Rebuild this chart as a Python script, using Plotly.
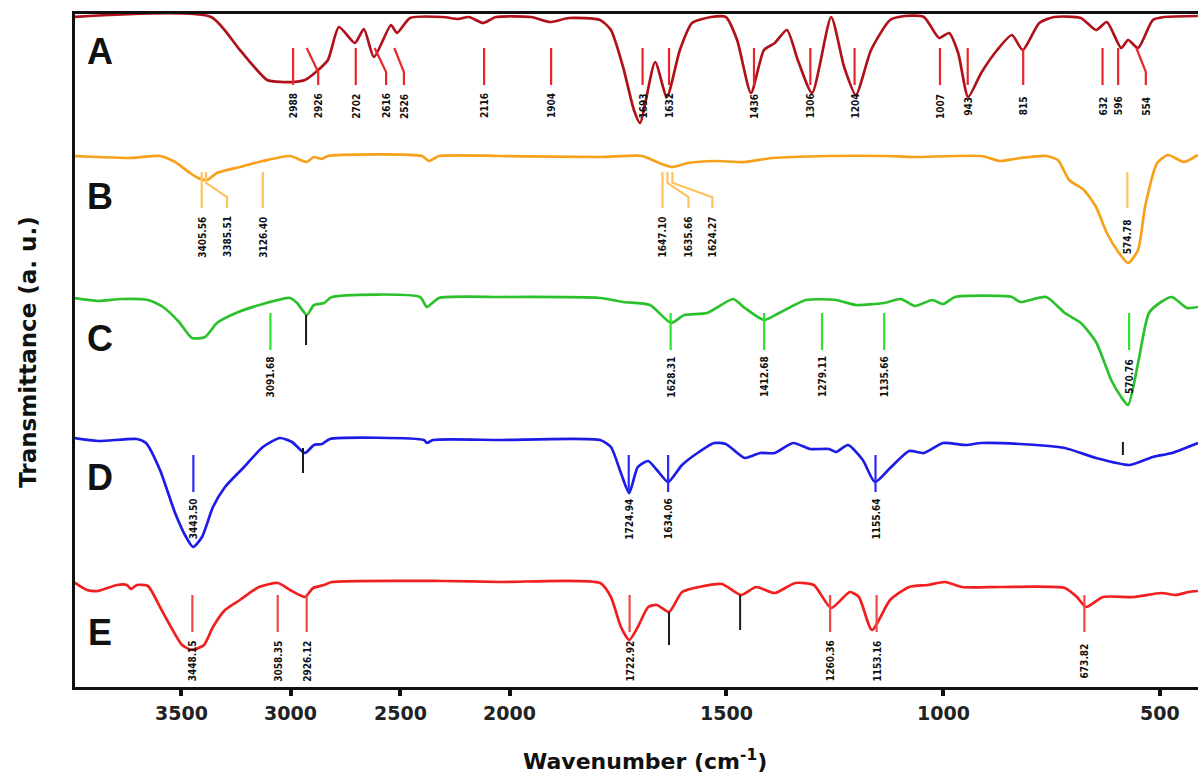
import plotly.graph_objects as go

# ---------------- data (wavenumber in cm-1, transmittance in a.u., curves offset) -------------
wA = [3990, 3363, 3231, 3107, 3039, 2989, 2934, 2884, 2829, 2779, 2706, 2665, 2619, 2541, 2514, 2454,
      2304, 2235, 2185, 2121, 2062, 1950, 1906, 1863, 1791, 1766, 1738, 1713, 1699, 1664, 1637, 1607,
      1579, 1535, 1501, 1475, 1443, 1413, 1388, 1360, 1335, 1302, 1258, 1228, 1201, 1166, 1122, 1088,
      1044, 1009, 986, 965, 942, 912, 875, 841, 816, 778, 744, 682, 647, 622, 589, 573, 550, 516, 490, 412]
tA = [670, 670, 637, 607, 605, 605, 607, 615, 627, 660, 644, 658, 630, 662, 654, 669,
      670, 668, 670, 664, 670, 670, 665, 669, 667, 657, 620, 577, 564, 625, 590, 637,
      664, 670, 670, 647, 594, 637, 644, 657, 627, 594, 670, 620, 592, 637, 667, 671,
      670, 649, 654, 634, 590, 614, 637, 652, 637, 664, 670, 669, 657, 665, 639, 647, 639, 667, 670, 671]

wB = [3990, 3879, 3737, 3596, 3527, 3459, 3422, 3381, 3336, 3231, 3126, 3002, 2925, 2893, 2857, 2829,
      2400, 2368, 2322, 2043, 1791, 1694, 1660, 1625, 1588, 1528, 1457, 1394, 1263, 1131, 1069, 912,
      868, 822, 762, 735, 709, 675, 647, 622, 594, 573, 550, 534, 506, 481, 444, 412]
tB = [531, 530, 529, 531, 525, 514, 509, 507, 514, 520, 526, 531, 525, 530, 528, 531,
      531, 526, 531, 531, 530, 531, 525, 520, 524, 526, 525, 529, 531, 531, 530, 531,
      526, 529, 531, 527, 507, 497, 480, 454, 434, 424, 437, 480, 524, 532, 525, 532]

wC = [3990, 3879, 3774, 3651, 3582, 3509, 3450, 3390, 3336, 3249, 3126, 3002, 2970, 2925, 2893, 2847,
      2811, 2409, 2377, 2322, 2043, 1791, 1738, 1676, 1627, 1597, 1544, 1484, 1457, 1413, 1378, 1316,
      1247, 1201, 1136, 1097, 1065, 1025, 1000, 972, 841, 822, 762, 719, 682, 647, 612, 589, 573, 550,
      525, 497, 472, 437, 412]
tC = [389, 386, 388, 387, 380, 365, 349, 350, 364, 374, 383, 389, 384, 372, 382, 384,
      390, 390, 380, 389, 390, 389, 385, 382, 364, 372, 374, 388, 379, 367, 374, 387,
      387, 382, 384, 388, 381, 387, 383, 390, 390, 385, 390, 374, 364, 345, 307, 290, 282, 324,
      374, 385, 390, 379, 380]

wD = [3990, 3879, 3701, 3660, 3596, 3527, 3477, 3445, 3404, 3354, 3299, 3212, 3126, 3048, 2993, 2934,
      2893, 2856, 2820, 2391, 2377, 2349, 2043, 1791, 1766, 1743, 1724, 1704, 1680, 1660, 1634, 1602,
      1563, 1528, 1501, 1457, 1422, 1388, 1346, 1307, 1263, 1247, 1219, 1185, 1157, 1122, 1078, 1044,
      1000, 947, 912, 822, 719, 647, 569, 516, 472, 412]
tD = [249, 246, 248, 244, 217, 174, 150, 140, 150, 180, 200, 220, 240, 249, 245, 234,
      242, 243, 248, 247, 244, 247, 247, 247, 240, 214, 194, 220, 226, 217, 205, 222,
      235, 244, 243, 229, 234, 234, 244, 238, 238, 235, 242, 227, 205, 219, 236, 234,
      244, 242, 244, 243, 239, 229, 222, 230, 234, 244]

wE = [3990, 3929, 3879, 3792, 3747, 3728, 3701, 3651, 3596, 3546, 3495, 3450, 3395, 3354, 3299, 3231,
      3144, 3057, 3002, 2934, 2897, 2847, 2811, 2304, 2043, 1791, 1766, 1743, 1724, 1704, 1680, 1660,
      1632, 1602, 1563, 1510, 1466, 1431, 1388, 1341, 1298, 1258, 1215, 1194, 1164, 1122, 1078, 1035,
      995, 956, 868, 719, 691, 670, 631, 560, 497, 463, 433, 412]
tE = [105, 97, 96, 102, 102, 98, 102, 101, 80, 60, 42, 37, 42, 60, 77, 87,
      100, 104, 97, 90, 99, 102, 105, 106, 105, 104, 90, 60, 47, 60, 80, 82,
      75, 95, 100, 103, 92, 100, 94, 104, 102, 79, 95, 90, 57, 87, 100, 102,
      105, 100, 100, 99, 90, 80, 90, 90, 94, 92, 95, 96]

peaksA = ["2988", "2926", "2702", "2616", "2526", "2116", "1904", "1693", "1632", "1436", "1306",
          "1204", "1007", "943", "815", "632", "596", "554"]
peaksB = ["3405.56", "3385.51", "3126.40", "1647.10", "1635.66", "1624.27", "574.78"]
peaksC = ["3091.68", "1628.31", "1412.68", "1279.11", "1135.66", "570.76"]
peaksD = ["3443.50", "1724.94", "1634.06", "1155.64"]
peaksE = ["3448.15", "3058.35", "2926.12", "1722.92", "1260.36", "1153.16", "673.82"]

unlabeledC = [2929]
unlabeledD = [2943, 585]
unlabeledE = [1632, 1468]

tick_values = [3500, 3000, 2500, 2000, 1500, 1000, 500]


# ---------------- axis scale: x2 expansion below 2000 cm-1 -------------------------------------
def pos(w):
    if w >= 2000:
        return 181 + (3500 - w) * 0.219
    return 509.5 + (2000 - w) * 0.4335


# ---------------- styles ------------------------------------------------------------------------
STYLE = {
    "A": dict(w=wA, t=tA, peaks=peaksA, color="#b0121b", mcolor="#e8262b", top=639, bot=602, ly=581,
              letter_y=636, f1=0.0, f2=0.65, slant={"2926": 11.5, "2616": 11.5, "2526": 9.6, "554": 9.5}),
    "B": dict(w=wB, t=tB, peaks=peaksB, color="#f6a11c", mcolor="#fdc35e", top=515, bot=479, ly=450,
              letter_y=491, f1=0.3, f2=0.7, slant={"3385.51": 21, "1635.66": 21, "1624.27": 40}),
    "C": dict(w=wC, t=tC, peaks=peaksC, color="#2cc12c", mcolor="#2ee22e", top=374, bot=337, ly=310,
              letter_y=349, f1=0, f2=0, slant={}),
    "D": dict(w=wD, t=tD, peaks=peaksD, color="#1c1ce6", mcolor="#2a2af7", top=232, bot=195, ly=168,
              letter_y=210, f1=0, f2=0, slant={}),
    "E": dict(w=wE, t=tE, peaks=peaksE, color="#f0201e", mcolor="#f24848", top=92, bot=55, ly=26,
              letter_y=55, f1=0, f2=0, slant={}),
}
BLACK_MARKS = [(unlabeledC[0], 372, 342), (unlabeledD[0], 239, 214), (unlabeledD[1], 245, 232),
               (unlabeledE[0], 75, 42), (unlabeledE[1], 92, 57)]

LABEL_FONT = dict(family="DejaVu Sans Condensed, DejaVu Sans", size=10, color="#111111", weight="bold")

fig = go.Figure()
annotations = []

for name, s in STYLE.items():
    fig.add_trace(go.Scatter(x=[pos(w) for w in s["w"]], y=s["t"], mode="lines",
                             line=dict(color=s["color"], width=2.7, shape="spline", smoothing=0.6),
                             hoverinfo="skip", showlegend=False))
    mx, my = [], []
    for lab in s["peaks"]:
        x0 = pos(float(lab))
        dx = s["slant"].get(lab, 0)
        top, bot = s["top"], s["bot"]
        if dx:
            h = top - bot
            mx += [x0, x0, x0 + dx, x0 + dx, None]
            my += [top, top - s["f1"] * h, top - s["f2"] * h, bot, None]
        else:
            mx += [x0, x0, None]
            my += [top, bot, None]
        annotations.append(dict(x=x0 + dx, y=s["ly"], xref="x", yref="y", text=lab, textangle=-90,
                                showarrow=False, font=LABEL_FONT, xanchor="center", yanchor="middle"))
    fig.add_trace(go.Scatter(x=mx, y=my, mode="lines", line=dict(color=s["mcolor"], width=2.2),
                             hoverinfo="skip", showlegend=False))
    annotations.append(dict(x=100, y=s["letter_y"], xref="x", yref="y", text=name, showarrow=False,
                            font=dict(family="Liberation Sans, Arial", size=36, color="#111111",
                                      weight="bold"),
                            xanchor="center", yanchor="middle"))

bx, by = [], []
for w, top, bot in BLACK_MARKS:
    bx += [pos(w), pos(w), None]
    by += [top, bot, None]
fig.add_trace(go.Scatter(x=bx, y=by, mode="lines", line=dict(color="#1a1a1a", width=2),
                         hoverinfo="skip", showlegend=False))

# tick labels of the wavenumber axis
for t in tick_values:
    annotations.append(dict(x=pos(t), y=-0.0386, xref="x", yref="paper", text=str(t), showarrow=False,
                            xanchor="center", yanchor="middle",
                            font=dict(family="DejaVu Sans", size=19, color="#222222", weight="bold")))

annotations.append(dict(x=645, y=-0.1085, xref="x", yref="paper", text="Wavenumber (cm<sup>-1</sup>)",
                        showarrow=False, xanchor="center", yanchor="middle",
                        font=dict(family="DejaVu Sans", size=22, color="#111111", weight="bold")))
annotations.append(dict(x=-0.0419, y=0.498, xref="paper", yref="paper", text="Transmittance (a. u.)",
                        textangle=-90, showarrow=False, xanchor="center", yanchor="middle",
                        font=dict(family="DejaVu Sans", size=23, color="#111111", weight="bold")))

fig.update_layout(
    width=1198, height=774,
    margin=dict(l=75, r=0, t=14, b=87),
    plot_bgcolor="white", paper_bgcolor="white",
    annotations=annotations,
    xaxis=dict(range=[75, 1198], showgrid=False, zeroline=False, showline=True, linecolor="#111111",
               linewidth=3, mirror=True, ticks="outside", ticklen=6, tickwidth=3.5, tickcolor="#111111",
               tickvals=[pos(t) for t in tick_values], showticklabels=False, automargin=False),
    yaxis=dict(range=[0, 673], showgrid=False, zeroline=False, showline=True, linecolor="#111111",
               linewidth=3, showticklabels=False, ticks="", automargin=False),
)

fig.write_html("out.html", config={"displayModeBar": False},
               post_script="document.body.style.margin='0';document.body.style.overflow='hidden';")
